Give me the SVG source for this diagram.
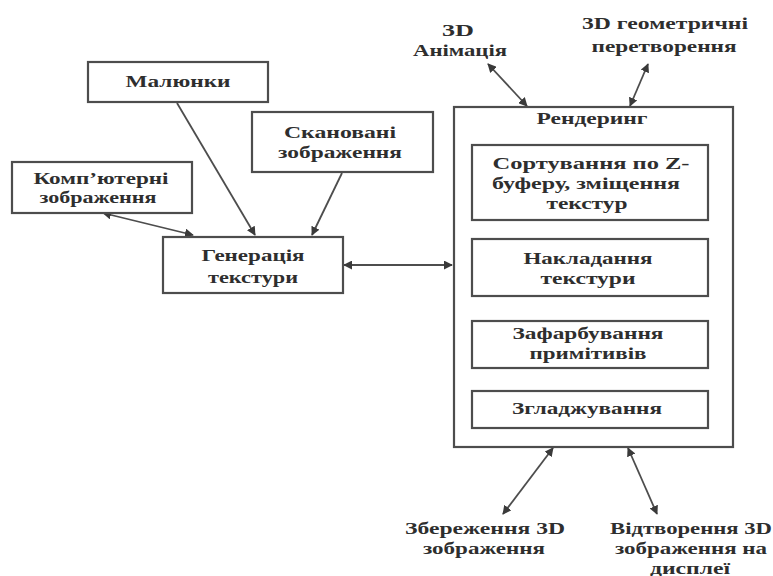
<svg xmlns="http://www.w3.org/2000/svg" width="773" height="576" viewBox="0 0 773 576" font-family="Liberation Serif, DejaVu Serif, serif">
<style>
.box{fill:#fff;stroke:#4d4d4d;stroke-width:2.2}
.ln{stroke:#4d4d4d;stroke-width:1.8;fill:none}
text{font-weight:bold;font-size:16px;fill:#2e2e2e;text-anchor:middle}
</style>
<defs>
<marker id="ah" viewBox="0 0 10 10" refX="9" refY="5" markerWidth="9" markerHeight="9" markerUnits="userSpaceOnUse" orient="auto-start-reverse">
<path d="M0,0 L10,5 L0,10 Z" fill="#3a3a3a"/>
</marker>
</defs>
<rect width="773" height="576" fill="#fff"/>
<g id="connectors">
<line class="ln" x1="177" y1="103" x2="255" y2="235" marker-end="url(#ah)"/>
<line class="ln" x1="342" y1="173" x2="312" y2="235" marker-end="url(#ah)"/>
<line class="ln" x1="103" y1="213" x2="193" y2="235" marker-start="url(#ah)" marker-end="url(#ah)"/>
<line class="ln" x1="344" y1="265" x2="452" y2="265" marker-start="url(#ah)" marker-end="url(#ah)"/>
<line class="ln" x1="488" y1="64" x2="527" y2="106" marker-start="url(#ah)" marker-end="url(#ah)"/>
<line class="ln" x1="648" y1="64" x2="630" y2="106" marker-start="url(#ah)" marker-end="url(#ah)"/>
<line class="ln" x1="553" y1="448" x2="503" y2="514" marker-start="url(#ah)" marker-end="url(#ah)"/>
<line class="ln" x1="628" y1="448" x2="657" y2="514" marker-start="url(#ah)" marker-end="url(#ah)"/>
<line class="ln" x1="589" y1="221" x2="589" y2="238" marker-end="url(#ah)"/>
<line class="ln" x1="589" y1="297" x2="589" y2="320" marker-end="url(#ah)"/>
<line class="ln" x1="589" y1="369" x2="589" y2="390" marker-end="url(#ah)"/>
</g>
<g id="malyunky">
<rect class="box" x="88" y="62" width="180" height="40"/>
<text x="178" y="87" textLength="105" lengthAdjust="spacingAndGlyphs">Малюнки</text>
</g>
<g id="skanovani">
<rect class="box" x="252" y="112" width="181" height="60"/>
<text x="340" y="138" textLength="112" lengthAdjust="spacingAndGlyphs">Скановані</text>
<text x="340" y="158" textLength="124" lengthAdjust="spacingAndGlyphs">зображення</text>
</g>
<g id="kompyuterni">
<rect class="box" x="12" y="162" width="180" height="51"/>
<text x="101" y="184" textLength="135" lengthAdjust="spacingAndGlyphs">Комп’ютерні</text>
<text x="98" y="203" textLength="117" lengthAdjust="spacingAndGlyphs">зображення</text>
</g>
<g id="heneratsiya">
<rect class="box" x="163" y="237" width="180" height="56"/>
<text x="253" y="261" textLength="103" lengthAdjust="spacingAndGlyphs">Генерація</text>
<text x="253" y="283" textLength="90" lengthAdjust="spacingAndGlyphs">текстури</text>
</g>
<g id="rendering">
<rect class="box" x="454" y="107" width="279" height="340"/>
<text x="592" y="124" textLength="111" lengthAdjust="spacingAndGlyphs">Рендеринг</text>
</g>
<g id="sortuvannya">
<rect class="box" x="472" y="145" width="236" height="75"/>
<text x="591" y="169" textLength="197" lengthAdjust="spacingAndGlyphs">Сортування по Z-</text>
<text x="586" y="189" textLength="188" lengthAdjust="spacingAndGlyphs">буферу, зміщення</text>
<text x="587" y="209" textLength="81" lengthAdjust="spacingAndGlyphs">текстур</text>
</g>
<g id="nakladannya">
<rect class="box" x="472" y="239" width="236" height="57"/>
<text x="588" y="264" textLength="129" lengthAdjust="spacingAndGlyphs">Накладання</text>
<text x="588" y="284" textLength="95" lengthAdjust="spacingAndGlyphs">текстури</text>
</g>
<g id="zafarbuvannya">
<rect class="box" x="472" y="321" width="236" height="47"/>
<text x="588" y="339" textLength="151" lengthAdjust="spacingAndGlyphs">Зафарбування</text>
<text x="588" y="359" textLength="117" lengthAdjust="spacingAndGlyphs">примітивів</text>
</g>
<g id="zgladzhuvannya">
<rect class="box" x="472" y="391" width="236" height="37"/>
<text x="587" y="414" textLength="150" lengthAdjust="spacingAndGlyphs">Згладжування</text>
</g>
<g id="animatsiya">
<text x="458" y="36" textLength="32" lengthAdjust="spacingAndGlyphs">3D</text>
<text x="460" y="56" textLength="94" lengthAdjust="spacingAndGlyphs">Анімація</text>
</g>
<g id="heometrychni">
<text x="665" y="29" textLength="166" lengthAdjust="spacingAndGlyphs">3D геометричні</text>
<text x="664" y="52" textLength="145" lengthAdjust="spacingAndGlyphs">перетворення</text>
</g>
<g id="zberezhennya">
<text x="485" y="534" textLength="160" lengthAdjust="spacingAndGlyphs">Збереження 3D</text>
<text x="484" y="554" textLength="122" lengthAdjust="spacingAndGlyphs">зображення</text>
</g>
<g id="vidtvorennya">
<text x="691" y="534" textLength="162" lengthAdjust="spacingAndGlyphs">Відтворення 3D</text>
<text x="691" y="554" textLength="152" lengthAdjust="spacingAndGlyphs">зображення на</text>
<text x="690" y="574" textLength="80" lengthAdjust="spacingAndGlyphs">дисплеї</text>
</g>
</svg>
